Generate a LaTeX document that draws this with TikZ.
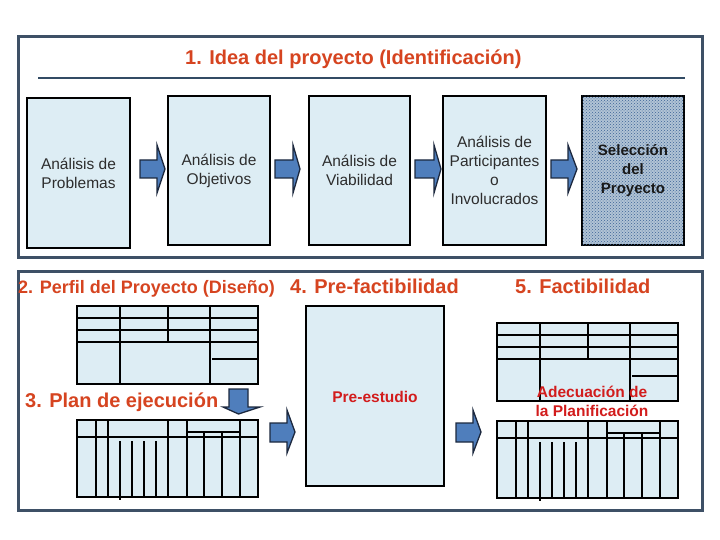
\documentclass[tikz,border=0pt]{standalone}
\usepackage{fontspec}
\setmainfont{Liberation Sans}
\usetikzlibrary{patterns}
\definecolor{boxfill}{RGB}{221,237,244}
\definecolor{framec}{RGB}{62,80,102}
\definecolor{rulec}{RGB}{50,75,100}
\definecolor{titlec}{RGB}{214,68,32}
\definecolor{redc}{RGB}{210,28,28}
\definecolor{arrowc}{RGB}{79,126,188}
\definecolor{arrowd}{RGB}{28,40,62}
\definecolor{selc}{RGB}{177,195,213}
\definecolor{seldot}{RGB}{60,100,150}
\definecolor{txt}{RGB}{45,45,45}
\begin{document}
\begin{tikzpicture}[x=1pt,y=-1pt,
 frame/.style={draw=framec,line width=3pt},
 box/.style={draw=black,line width=2pt,fill=boxfill,align=center,inner sep=0pt,text=txt,font=\fontsize{15.5}{19}\selectfont},
 blk/.style={fill=arrowc,draw=arrowd,line width=1.3pt,line join=miter},
 tbl/.style={draw=black,line width=2.5pt,fill=boxfill},
 tl/.style={draw=black,line width=2.5pt},
 head/.style={font=\fontsize{20}{24}\bfseries\selectfont,text=titlec,inner sep=0pt,anchor=base west},
]
\useasboundingbox[fill=white] (0,0) rectangle (720,540);

% frames
\draw[frame] (18,37) rectangle (702,257);
\draw[frame] (18,271) rectangle (702,510);

% title
\node[head] (title) at (185,65) {1. Idea del proyecto (Identificación)};
\draw[rulec,line width=2pt] (38,78) -- (685,78);

% top boxes
\node[box,minimum width=103pt,minimum height=150pt] (b1) at (78.5,173) {Análisis de\\Problemas};
\node[box,minimum width=102pt,minimum height=149pt] (b2) at (219,170.5) {Análisis de\\Objetivos};
\node[box,minimum width=101pt,minimum height=149pt] (b3) at (359.5,170.5) {Análisis de\\Viabilidad};
\node[box,minimum width=103pt,minimum height=149pt] (b4) at (494.5,170.5) {Análisis de\\Participantes\\o\\Involucrados};
\node[box,minimum width=102pt,minimum height=149pt,fill=selc,
      postaction={pattern=crosshatch dots,pattern color=seldot},
      text=black!90,font=\fontsize{15}{19}\bfseries\selectfont] (b5) at (633,170.5) {Selección\\del\\Proyecto};

% block arrows (top row)
\foreach \xa/\xb/\xt in {140/157/165, 275/293/300, 415/434/441, 551/568/577}{
  \draw[blk] (\xa,160) -- (\xb,160) -- (\xb,145) -- (\xt,169) -- (\xb,193) -- (\xb,178) -- (\xa,178) -- cycle;
}

% headings bottom
\node[head,font=\fontsize{18}{22}\bfseries\selectfont] (h2) at (18,293) {2. Perfil del Proyecto (Diseño)};
\node[head] (h3) at (25,407) {3. Plan de ejecución};
\node[head] (h4) at (290,293) {4. Pre-factibilidad};
\node[head] (h5) at (515,293) {5. Factibilidad};

% table type A (perfil)
\foreach \sx/\sy in {77/306, 497/323}{
\begin{scope}[shift={(\sx,\sy)}]
  \draw[tbl] (0,0) rectangle (181,78);
  \draw[tl] (0,12) -- (181,12) (0,24) -- (181,24) (0,36) -- (181,36);
  \draw[tl] (43,0) -- (43,78) (91,0) -- (91,36) (133,0) -- (133,78);
  \draw[tl] (135,53) -- (181,53);
\end{scope}
}

% table type B (plan)
\foreach \sx/\sy in {77/420, 497/421}{
\begin{scope}[shift={(\sx,\sy)}]
  \draw[tbl] (0,0) rectangle (181,77);
  \draw[tl] (0,17) -- (181,17);
  \foreach \vx in {19,31,91,110,163} \draw[tl] (\vx,0) -- (\vx,77);
  \draw[tl] (43,21) -- (43,80);
  \foreach \vx in {55,67,79} \draw[tl] (\vx,21) -- (\vx,77);
  \foreach \vx in {127,145} \draw[tl] (\vx,12) -- (\vx,77);
  \draw[tl] (111,12) -- (163,12);
\end{scope}
}

% down arrow
\draw[blk] (229,389) -- (248,389) -- (248,407) -- (260,407) -- (238.5,414) -- (223,407) -- (229,407) -- cycle;

% pre-estudio box
\node[box,minimum width=138pt,minimum height=180pt,text=redc,font=\fontsize{15.5}{19}\bfseries\selectfont] (pre) at (375,396) {};
\node[text=redc,font=\fontsize{15.5}{19}\bfseries\selectfont,inner sep=0pt] (pretxt) at (375,397) {Pre-estudio};

% bottom arrows
\foreach \xa/\xb/\xt in {270/287/295, 456/473/481}{
  \draw[blk] (\xa,423) -- (\xb,423) -- (\xb,410) -- (\xt,432) -- (\xb,453) -- (\xb,442) -- (\xa,442) -- cycle;
}

% adecuacion label
\node[align=center,text=redc,font=\fontsize{15.5}{19}\bfseries\selectfont,inner sep=0pt] (adec) at (592,401.5) {Adecuación de\\la Planificación};
\end{tikzpicture}
\end{document}
